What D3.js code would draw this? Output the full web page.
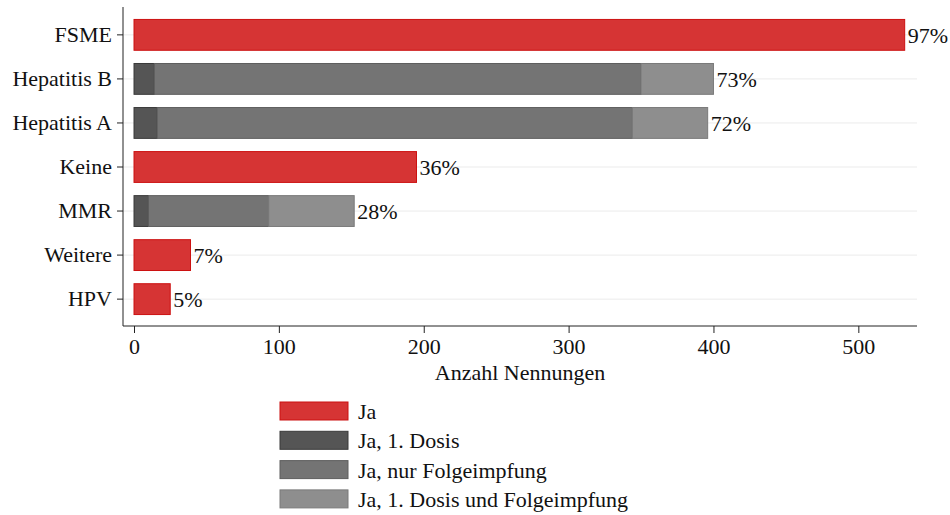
<!doctype html>
<html>
  <head>
    <meta charset="utf-8">
    <script src="https://d3js.org/d3.v7.min.js"></script>
    <style>
      body { margin: 0; background: #fff; }
      text { font-family: "Liberation Serif", "Times New Roman", serif; fill: #111; }
      .grid line { stroke: #ebebeb; stroke-width: 1; }
      .axis path, .axis line { stroke: #222; }
    </style>
  </head>
  <body>
    <script>
    // categories from top to bottom
    var categories = ['FSME', 'Hepatitis B', 'Hepatitis A', 'Keine', 'MMR', 'Weitere', 'HPV'];
    // series values (Anzahl Nennungen)
    var ja         = [532, 0, 0, 195, 0, 39, 25];
    var ersteDosis = [0, 14, 16, 0, 10, 0, 0];
    var nurFolge   = [0, 336, 328, 0, 83, 0, 0];
    var beide      = [0, 50, 52, 0, 59, 0, 0];
    var percentLabels = ['97%', '73%', '72%', '36%', '28%', '7%', '5%'];
    var xTicks = [0, 100, 200, 300, 400, 500];

    var seriesNames = ['Ja', 'Ja, 1. Dosis', 'Ja, nur Folgeimpfung', 'Ja, 1. Dosis und Folgeimpfung'];
    var seriesKeys = ['ja', 'ersteDosis', 'nurFolge', 'beide'];
    var fills = ['#d63434', '#555555', '#747474', '#8e8e8e'];
    var strokes = ['#cc1111', '#3a3a3a', '#5e5e5e', '#7a7a7a'];

    var width = 950, height = 515;
    var fontSize = '22px';
    var svg = d3.select('body').append('svg')
      .attr('width', width)
      .attr('height', height);

    var plotLeft = 123, plotRight = 917, plotTop = 8, plotBottom = 326;

    var rows = categories.map(function(c, i) {
      return { cat: c, ja: ja[i], ersteDosis: ersteDosis[i], nurFolge: nurFolge[i], beide: beide[i], pct: percentLabels[i] };
    });

    var x = d3.scaleLinear().domain([-7.6, 540.5]).range([plotLeft, plotRight]);
    var y = d3.scaleBand().domain(categories).range([plotTop, plotBottom])
      .paddingInner(0.3).paddingOuter(0.26);

    // gridlines
    svg.append('g')
      .attr('class', 'grid')
      .selectAll('line')
      .data(categories)
      .enter().append('line')
      .attr('x1', plotLeft).attr('x2', plotRight)
      .attr('y1', function(d) { return y(d) + y.bandwidth() / 2; })
      .attr('y2', function(d) { return y(d) + y.bandwidth() / 2; });

    // stacked bars
    var stack = d3.stack().keys(seriesKeys)(rows);
    stack.forEach(function(layer, li) {
      svg.append('g')
        .selectAll('rect')
        .data(layer.filter(function(d) { return d[1] - d[0] > 0; }))
        .enter().append('rect')
        .attr('x', function(d) { return x(d[0]); })
        .attr('y', function(d) { return y(d.data.cat); })
        .attr('width', function(d) { return x(d[1]) - x(d[0]); })
        .attr('height', y.bandwidth())
        .attr('fill', fills[li])
        .attr('stroke', strokes[li])
        .attr('stroke-width', 1);
    });

    // percent labels
    svg.append('g')
      .selectAll('text')
      .data(rows)
      .enter().append('text')
      .attr('x', function(d) { return x(d.ja + d.ersteDosis + d.nurFolge + d.beide) + 3; })
      .attr('y', function(d) { return y(d.cat) + y.bandwidth() / 2; })
      .attr('dy', '0.36em')
      .style('font-size', fontSize)
      .text(function(d) { return d.pct; });

    // axes
    var yAxis = svg.append('g')
      .attr('class', 'axis')
      .attr('transform', 'translate(' + plotLeft + ',0)')
      .call(d3.axisLeft(y).tickSize(6).tickPadding(5).tickSizeOuter(0));
    yAxis.select('.domain').attr('d', 'M0,' + (plotTop - 1) + 'V' + plotBottom);
    yAxis.selectAll('text').style('font-size', fontSize);

    var xAxis = svg.append('g')
      .attr('class', 'axis')
      .attr('transform', 'translate(0,' + plotBottom + ')')
      .call(d3.axisBottom(x).tickValues(xTicks).tickSize(7).tickPadding(5).tickSizeOuter(0));
    xAxis.select('.domain').attr('d', 'M' + plotLeft + ',0H' + plotRight);
    xAxis.selectAll('text').style('font-size', fontSize);

    svg.append('text')
      .attr('x', (plotLeft + plotRight) / 2)
      .attr('y', 380)
      .attr('text-anchor', 'middle')
      .style('font-size', fontSize)
      .text('Anzahl Nennungen');

    // legend
    var legend = svg.append('g').attr('transform', 'translate(280,402)');
    seriesNames.forEach(function(name, i) {
      legend.append('rect')
        .attr('x', 0)
        .attr('y', i * 29.3)
        .attr('width', 68)
        .attr('height', 18)
        .attr('fill', fills[i])
        .attr('stroke', strokes[i]);
      legend.append('text')
        .attr('x', 78)
        .attr('y', i * 29.3 + 9)
        .attr('dy', '0.36em')
        .style('font-size', fontSize)
        .text(name);
    });
    </script>
  </body>
</html>
